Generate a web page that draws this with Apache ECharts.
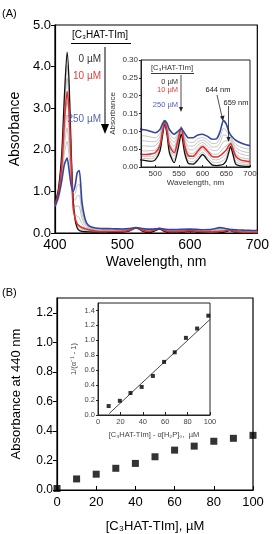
<!DOCTYPE html>
<html><head><meta charset="utf-8">
<script src="https://cdn.jsdelivr.net/npm/echarts@6/dist/echarts.min.js"></script>
<style>html,body{margin:0;padding:0;background:#fff}#c{width:272px;height:534px}</style>
</head><body><div id="c"></div>
<script>
// ---- Panel A: absorption spectra ----
var wavelengths = [400,405,410,414,418,421,424,427,430,433,436,440,445,450,460,470,480,490,500,510,515,520,525,530,540,548,555,562,570,580,590,600,610,620,630,637,644,650,655,659,664,670,680,690,700];
var abs0uM = [0.70,1.05,1.9,3.3,4.35,3.6,2.0,0.8,0.3,0.12,0.06,0.04,0.03,0.025,0.02,0.02,0.018,0.016,0.02,0.045,0.085,0.12,0.09,0.04,0.012,0.05,0.092,0.04,0.01,0.008,0.02,0.035,0.02,0.006,0.004,0.005,0.008,0.018,0.04,0.057,0.035,0.008,0.003,0.002,0.002];
var absGrayA = [0.69,1.02,1.8,3.1,4.03,3.37,1.9,0.73,0.32,0.15,0.09,0.07,0.053,0.043,0.03,0.025,0.024,0.023,0.027,0.05,0.088,0.122,0.093,0.047,0.021,0.058,0.099,0.047,0.017,0.015,0.028,0.042,0.028,0.014,0.012,0.014,0.019,0.028,0.047,0.06,0.04,0.015,0.009,0.007,0.006];
var absGrayB = [0.67,0.98,1.7,2.9,3.72,3.13,1.8,0.67,0.33,0.19,0.13,0.10,0.077,0.06,0.04,0.031,0.029,0.029,0.033,0.055,0.092,0.125,0.097,0.053,0.031,0.067,0.105,0.053,0.025,0.023,0.037,0.05,0.037,0.022,0.02,0.023,0.029,0.038,0.053,0.063,0.045,0.023,0.014,0.012,0.011];
var abs10uM = [0.66,0.95,1.6,2.7,3.4,2.9,1.7,0.6,0.35,0.22,0.17,0.13,0.10,0.08,0.05,0.036,0.035,0.036,0.04,0.06,0.095,0.127,0.10,0.06,0.04,0.075,0.112,0.06,0.032,0.03,0.045,0.057,0.045,0.03,0.028,0.032,0.04,0.048,0.06,0.066,0.05,0.03,0.02,0.017,0.015];
var absGrayC = [0.655,0.935,1.54,2.54,3.16,2.69,1.62,0.66,0.47,0.40,0.37,0.22,0.13,0.095,0.06,0.047,0.045,0.046,0.048,0.067,0.099,0.127,0.103,0.067,0.048,0.079,0.111,0.065,0.04,0.038,0.052,0.062,0.051,0.037,0.036,0.042,0.054,0.059,0.066,0.07,0.055,0.037,0.027,0.024,0.022];
var absGrayD = [0.65,0.915,1.48,2.33,2.84,2.41,1.51,0.74,0.63,0.65,0.64,0.35,0.18,0.115,0.075,0.06,0.059,0.058,0.06,0.076,0.104,0.128,0.108,0.076,0.058,0.084,0.11,0.072,0.05,0.048,0.061,0.069,0.059,0.047,0.046,0.056,0.071,0.073,0.074,0.074,0.061,0.046,0.037,0.033,0.031];
var absGrayE = [0.645,0.895,1.41,2.12,2.52,2.13,1.40,0.82,0.79,0.90,0.90,0.47,0.22,0.135,0.09,0.074,0.073,0.071,0.071,0.085,0.109,0.129,0.112,0.085,0.069,0.089,0.11,0.079,0.059,0.059,0.07,0.076,0.068,0.056,0.057,0.069,0.09,0.088,0.082,0.079,0.068,0.055,0.046,0.042,0.04];
var absGrayF = [0.64,0.875,1.34,1.91,2.2,1.85,1.29,0.90,0.95,1.14,1.17,0.60,0.27,0.155,0.10,0.088,0.087,0.084,0.082,0.094,0.114,0.129,0.117,0.094,0.079,0.094,0.109,0.086,0.07,0.069,0.079,0.083,0.076,0.066,0.067,0.083,0.108,0.102,0.09,0.084,0.074,0.064,0.056,0.052,0.049];
var abs250uM = [0.63,0.85,1.25,1.65,1.8,1.5,1.15,1.0,1.15,1.45,1.5,0.75,0.32,0.18,0.12,0.106,0.104,0.10,0.096,0.105,0.12,0.13,0.122,0.105,0.092,0.10,0.108,0.095,0.082,0.082,0.09,0.092,0.086,0.078,0.08,0.10,0.13,0.12,0.10,0.09,0.082,0.075,0.068,0.063,0.06];
var insetAXTicks = [500,550,600,650,700];

// ---- Panel B: titration ----
var concB = [0,10,20,30,40,50,60,70,80,90,100];
var abs440 = [0.01,0.075,0.107,0.147,0.18,0.225,0.27,0.297,0.33,0.35,0.37];
var insetBX = [9.5,19.5,29,39,49,59,68.5,78.5,88.5,98.5];
var insetBY = [0.12,0.19,0.295,0.376,0.523,0.711,0.84,1.033,1.158,1.33];
var insetBFitX = [10,100];
var insetBFitY = [0.02,1.28];

function pairs(xs, ys){ return xs.map(function(x,i){ return [x, ys[i]]; }); }

var FONT = 'Liberation Sans';
var chart = echarts.init(document.getElementById('c'), null, {renderer:'canvas'});

function axisCommon(o){
  return Object.assign({
    axisLine:{show:true, onZero:false, lineStyle:{color:'#000', width:1.2}},
    splitLine:{show:false},
    axisLabel:{color:'#000', fontFamily:FONT},
    nameTextStyle:{color:'#000', fontFamily:FONT}
  }, o);
}

var spectraDefs = [
  {d:absGrayA, c:'#b4b4b4', w:0.8},
  {d:absGrayB, c:'#b4b4b4', w:0.8},
  {d:absGrayC, c:'#b4b4b4', w:0.8},
  {d:absGrayD, c:'#b4b4b4', w:0.8},
  {d:absGrayE, c:'#b4b4b4', w:0.8},
  {d:absGrayF, c:'#b4b4b4', w:0.8},
  {d:abs0uM, c:'#111', w:1.3},
  {d:abs10uM, c:'#e0302e', w:1.6},
  {d:abs250uM, c:'#3346a0', w:1.6}
];

var series = [];
[0,1].forEach(function(gi){
  spectraDefs.forEach(function(s, k){
    series.push({type:'line', xAxisIndex:gi, yAxisIndex:gi, data:pairs(wavelengths, s.d),
      showSymbol:false, smooth:0.25, lineStyle:{color:s.c, width:s.w}, silent:true, animation:false,
      z: gi === 0 ? 2 : 10});
  });
});
series.push({type:'scatter', xAxisIndex:2, yAxisIndex:2, data:pairs(concB, abs440), symbol:'rect', symbolSize:7, itemStyle:{color:'#000'}, animation:false, z:2});
series.push({type:'line', xAxisIndex:3, yAxisIndex:3, data:pairs(insetBFitX, insetBFitY), showSymbol:false, lineStyle:{color:'#333', width:0.9}, animation:false, z:10});
series.push({type:'scatter', xAxisIndex:3, yAxisIndex:3, data:pairs(insetBX, insetBY), symbol:'rect', symbolSize:4, itemStyle:{color:'#000'}, animation:false, z:11});

var option = {
  backgroundColor:'#fff',
  animation:false,
  grid:[
    {left:52, top:25, width:208, height:208, show:true, borderColor:'#000', borderWidth:1.2, backgroundColor:'transparent'},
    {left:141, top:60, width:109, height:107, show:true, borderColor:'#222', borderWidth:1, backgroundColor:'#fff', z:5},
    {left:57, top:298, width:196, height:195, show:true, borderColor:'#000', borderWidth:1.2, backgroundColor:'transparent'},
    {left:98, top:303, width:112, height:112, show:true, borderColor:'#222', borderWidth:1, backgroundColor:'#fff', z:5}
  ],
  xAxis:[
    axisCommon({gridIndex:0, type:'value', min:400, max:700, interval:100, name:'Wavelength, nm', nameLocation:'middle', nameGap:22,
      nameTextStyle:{fontSize:14, fontFamily:FONT, color:'#000'}, axisTick:{inside:true, length:4},
      axisLabel:{fontSize:14, fontFamily:FONT, color:'#000', margin:5}}),
    axisCommon({gridIndex:1, type:'value', min:470, max:700, name:'Wavelength, nm', nameLocation:'middle', nameGap:12,
      nameTextStyle:{fontSize:8, fontFamily:FONT, color:'#333'}, axisLine:{show:true, onZero:false, lineStyle:{color:'#222', width:1}},
      axisTick:{inside:true, length:2, lineStyle:{color:'#222'}, customValues: insetAXTicks},
      axisLabel:{fontSize:8, fontFamily:FONT, color:'#333', margin:3, customValues: insetAXTicks}, z:12}),
    axisCommon({gridIndex:2, type:'value', min:0, max:100, interval:20, name:'[C₃HAT-TIm], µM', nameLocation:'middle', nameGap:30,
      nameTextStyle:{fontSize:13, fontFamily:FONT, color:'#000'}, axisTick:{inside:true, length:4},
      axisLabel:{fontSize:13, fontFamily:FONT, color:'#000', margin:6}}),
    axisCommon({gridIndex:3, type:'value', min:0, max:100, interval:20, name:'[C₃HAT-TIm] - α[H₂P]₀,  µM', nameLocation:'middle', nameGap:16,
      nameTextStyle:{fontSize:7.5, fontFamily:FONT, color:'#444'}, axisLine:{show:true, onZero:false, lineStyle:{color:'#222', width:1}}, axisTick:{inside:true, length:3, lineStyle:{color:'#222'}},
      axisLabel:{fontSize:7.5, fontFamily:FONT, color:'#444', margin:3}, z:12})
  ],
  yAxis:[
    axisCommon({gridIndex:0, type:'value', min:0, max:5, interval:1, name:'Absorbance', nameLocation:'middle', nameGap:31,
      nameTextStyle:{fontSize:14, fontFamily:FONT, color:'#000'}, axisTick:{inside:false, length:4},
      axisLabel:{fontSize:13, fontFamily:FONT, color:'#000', margin:4, formatter:function(v){return v.toFixed(1);}}}),
    axisCommon({gridIndex:1, type:'value', min:0, max:0.3, interval:0.05, name:'Absorbance', nameLocation:'middle', nameGap:24,
      nameTextStyle:{fontSize:8, fontFamily:FONT, color:'#333'}, axisLine:{show:true, onZero:false, lineStyle:{color:'#222', width:1}}, axisTick:{inside:false, length:2, lineStyle:{color:'#222'}},
      axisLabel:{fontSize:8, fontFamily:FONT, color:'#333', margin:3, formatter:function(v){return v.toFixed(2);}}, z:12}),
    axisCommon({gridIndex:2, type:'value', min:0, max:1.3, interval:0.2, name:'Absorbance at 440 nm', nameLocation:'middle', nameGap:34,
      nameTextStyle:{fontSize:13, fontFamily:FONT, color:'#000'}, axisTick:{inside:false, length:4},
      axisLabel:{fontSize:12, fontFamily:FONT, color:'#000', margin:4, showMaxLabel:false, formatter:function(v){return v.toFixed(1);}}}),
    axisCommon({gridIndex:3, type:'value', min:0, max:1.5, interval:0.2, name:'1/(α⁻¹ - 1)', nameLocation:'middle', nameGap:20,
      nameTextStyle:{fontSize:7.5, fontFamily:FONT, color:'#444'}, axisLine:{show:true, onZero:false, lineStyle:{color:'#222', width:1}}, axisTick:{inside:false, length:2, lineStyle:{color:'#222'}},
      axisLabel:{fontSize:7.5, fontFamily:FONT, color:'#444', margin:3, formatter:function(v){return v.toFixed(1);}}, z:12})
  ],
  series: series,
  graphic:[
    {type:'text', left:2, top:8, style:{text:'(A)', font:'11px '+FONT, fill:'#000'}},
    {type:'text', left:2, top:287, style:{text:'(B)', font:'11px '+FONT, fill:'#000'}},
    // main A annotation
    {type:'text', x:100, y:35, style:{text:'[C₃HAT-TIm]', font:'10px '+FONT, fill:'#000', align:'center', verticalAlign:'middle'}, z:20},
    {type:'line', shape:{x1:71, y1:43.5, x2:131, y2:43.5}, style:{stroke:'#000', lineWidth:1.2}, z:20},
    {type:'text', x:101, y:59, style:{text:'0 µM', font:'10px '+FONT, fill:'#333', align:'right', verticalAlign:'middle'}, z:20},
    {type:'text', x:101, y:76, style:{text:'10 µM', font:'10px '+FONT, fill:'#e0403c', align:'right', verticalAlign:'middle'}, z:20},
    {type:'text', x:101, y:119, style:{text:'250 µM', font:'10px '+FONT, fill:'#5566b0', align:'right', verticalAlign:'middle'}, z:20},
    {type:'line', shape:{x1:105, y1:47, x2:105, y2:126}, style:{stroke:'#000', lineWidth:1}, z:20},
    {type:'polygon', shape:{points:[[101,124],[109,124],[105,134]]}, style:{fill:'#000'}, z:20},
    // inset A annotation
    {type:'text', x:172, y:68, style:{text:'[C₃HAT-TIm]', font:'7.5px '+FONT, fill:'#333', align:'center', verticalAlign:'middle'}, z:20},
    {type:'line', shape:{x1:151, y1:73.5, x2:194, y2:73.5}, style:{stroke:'#222', lineWidth:0.9}, z:20},
    {type:'text', x:178, y:82, style:{text:'0 µM', font:'7.5px '+FONT, fill:'#333', align:'right', verticalAlign:'middle'}, z:20},
    {type:'text', x:178, y:90, style:{text:'10 µM', font:'7.5px '+FONT, fill:'#e0403c', align:'right', verticalAlign:'middle'}, z:20},
    {type:'text', x:178, y:105, style:{text:'250 µM', font:'7.5px '+FONT, fill:'#5060b0', align:'right', verticalAlign:'middle'}, z:20},
    {type:'line', shape:{x1:181, y1:75, x2:181, y2:108}, style:{stroke:'#222', lineWidth:0.8}, z:20},
    {type:'polygon', shape:{points:[[179,107],[183,107],[181,112]]}, style:{fill:'#222'}, z:20},
    {type:'text', x:218, y:90, style:{text:'644 nm', font:'7.5px '+FONT, fill:'#222', align:'center', verticalAlign:'middle'}, z:20},
    {type:'line', shape:{x1:217, y1:95, x2:222, y2:117}, style:{stroke:'#222', lineWidth:0.8}, z:20},
    {type:'polygon', shape:{points:[[220,116.5],[224.5,115.5],[223,121]]}, style:{fill:'#222'}, z:20},
    {type:'text', x:236, y:103, style:{text:'659 nm', font:'7.5px '+FONT, fill:'#222', align:'center', verticalAlign:'middle'}, z:20},
    {type:'line', shape:{x1:228.5, y1:106, x2:228.5, y2:138}, style:{stroke:'#222', lineWidth:0.8}, z:20},
    {type:'polygon', shape:{points:[[226.5,137],[230.5,137],[228.5,142]]}, style:{fill:'#222'}, z:20}
  ]
};
chart.setOption(option);
</script></body></html>
